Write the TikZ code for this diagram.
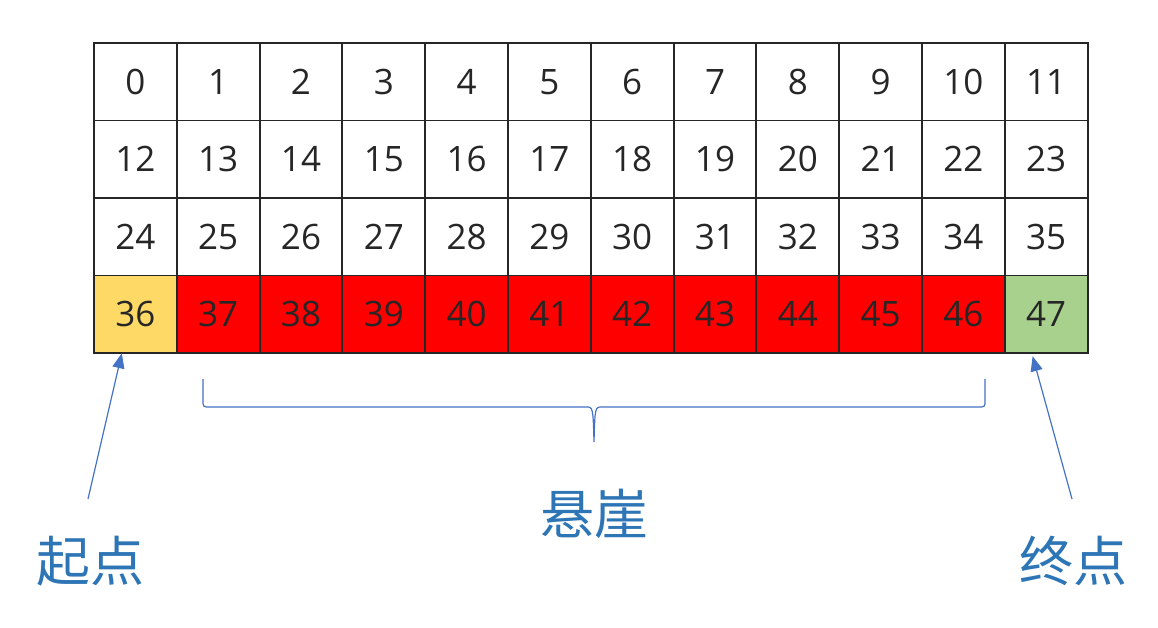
\documentclass[tikz,border=0pt]{standalone}
\usepackage{fontspec}
\setmainfont{Open Sans}
\newfontfamily\cjk{Noto Sans CJK SC}
\definecolor{startc}{HTML}{FFD966}
\definecolor{cliffc}{HTML}{FF0000}
\definecolor{endc}{HTML}{A9D18E}
\definecolor{arrc}{HTML}{4472C4}
\definecolor{labc}{HTML}{2E75B6}
\usetikzlibrary{arrows.meta}
\begin{document}
\begin{tikzpicture}[x=1pt,y=-1pt,
  cell/.style={minimum width=82.8pt,minimum height=77.5pt,inner sep=0pt,anchor=center,text=black!85,font=\fontsize{35}{38}\selectfont},
  cellline/.style={draw=black!85,line width=1.5pt},
  lab/.style={text=labc,font=\cjk\fontsize{54}{58}\selectfont,inner sep=0pt},
  pointer/.style={draw=arrc,line width=1.2pt,-{Triangle[length=15pt,width=12pt]}}]
\useasboundingbox (0,0) rectangle (1158,628);
\foreach \r in {0,...,3}{
  \foreach \c in {0,...,11}{
    \pgfmathtruncatemacro{\n}{\r*12+\c}
    \ifnum\n=36 \def\fc{startc}\else\ifnum\n=47 \def\fc{endc}\else\ifnum\n>36 \def\fc{cliffc}\else\def\fc{white}\fi\fi\fi
    \node[cell,fill=\fc] (c\n) at ({94+82.8*(\c+0.5)},{43+77.5*(\r+0.5)}) {\n};
  }
}
\foreach \n in {0,...,47}{
  \draw[cellline] (c\n.north west) rectangle (c\n.south east);
}
\node[lab] (start) at (90,561) {起点};
\node[lab] (cliff) at (594,514) {悬崖};
\node[lab] (goal) at (1073,561) {终点};
\coordinate (s0) at (88,499);
\coordinate (g0) at (1072,499);
\draw[pointer] (s0) -- ([xshift=28pt]c36.south west);
\draw[pointer] (g0) -- ([xshift=28pt,yshift=-3pt]c47.south west);
\coordinate (bl) at (203,379);
\coordinate (br) at (985,379);
\coordinate (bm) at (594,442);
\draw[arrc,line width=1.2pt,line join=round]
  (bl) -- (203,400) .. controls (203,407) .. (210,407) -- (586,407)
  .. controls (593,407) .. (bm)
  (bm) .. controls (595,407) .. (602,407) -- (978,407)
  .. controls (985,407) .. (985,400) -- (br);
\end{tikzpicture}
\end{document}
